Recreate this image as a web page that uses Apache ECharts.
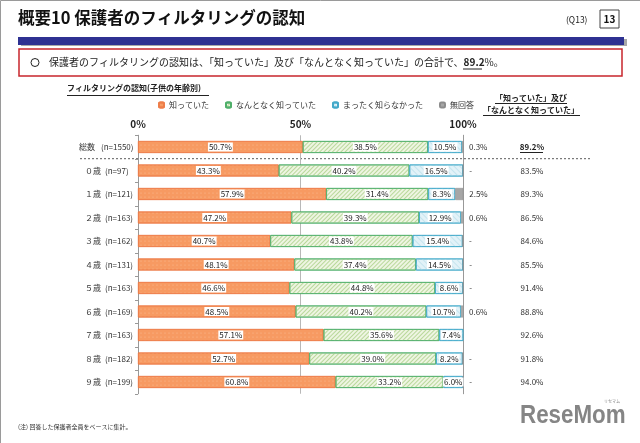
<!DOCTYPE html>
<html><head><meta charset="utf-8">
<script src="https://cdn.jsdelivr.net/npm/echarts@6/dist/echarts.min.js"></script>
<style>html,body{margin:0;padding:0;background:#fff}#c{width:640px;height:443px}</style>
</head><body><div id="c"></div>
<script>
const categories = ['総数', '０歳', '１歳', '２歳', '３歳', '４歳', '５歳', '６歳', '７歳', '８歳', '９歳'];
const sampleSizes = ['(n=1550)', '(n=97)', '(n=121)', '(n=163)', '(n=162)', '(n=131)', '(n=163)', '(n=169)', '(n=163)', '(n=182)', '(n=199)'];
const knew = [50.7, 43.3, 57.9, 47.2, 40.7, 48.1, 46.6, 48.5, 57.1, 52.7, 60.8];
const vaguelyKnew = [38.5, 40.2, 31.4, 39.3, 43.8, 37.4, 44.8, 40.2, 35.6, 39.0, 33.2];
const didNotKnow = [10.5, 16.5, 8.3, 12.9, 15.4, 14.5, 8.6, 10.7, 7.4, 8.2, 6.0];
const noAnswer = [0.3, 0, 2.5, 0.6, 0, 0, 0, 0.6, 0, 0, 0];
const knewTotal = [89.2, 83.5, 89.3, 86.5, 84.6, 85.5, 91.4, 88.8, 92.6, 91.8, 94.0];
const seriesNames = ['知っていた', 'なんとなく知っていた', 'まったく知らなかった', '無回答'];
const xTicks = [0, 50, 100];

const FONT = '"Noto Sans CJK JP", "Noto Sans", sans-serif';
const chart = echarts.init(document.getElementById('c'), null, {renderer: 'canvas'});

const inLabel = {
  show: true, position: 'inside', fontSize: 8, color: '#222', fontFamily: FONT,
  backgroundColor: '#fff', padding: [1, 1, 0, 1],
  formatter: p => p.value.toFixed(1) + '%'
};
const txt = {fontSize: 8, fontFamily: FONT, color: '#333'};

const option = {
  animation: false,
  textStyle: {fontFamily: FONT},
  legend: {
    data: seriesNames, left: 158, top: 101, padding: 0, itemWidth: 5, itemHeight: 5, itemGap: 16,
    textStyle: {fontSize: 8, color: '#333', fontFamily: FONT}
  },
  grid: {left: 138, right: 177, top: 135.25, height: 258.5},
  xAxis: {
    type: 'value', position: 'top', min: 0, max: 100, interval: 50,
    axisLine: {show: false}, axisTick: {show: false},
    axisLabel: {fontSize: 10, color: '#222', fontWeight: 'bold', margin: 6,
      formatter: v => xTicks.includes(v) ? v + '%' : ''},
    splitLine: {show: true, lineStyle: {color: '#b8b8b8', width: 1}}
  },
  yAxis: [{
    type: 'category', inverse: true, data: categories,
    axisLine: {show: true, lineStyle: {color: '#999'}},
    axisTick: {show: true, length: 3, lineStyle: {color: '#999'}},
    axisLabel: {
      align: 'right', margin: 6, fontSize: 8, color: '#333',
      formatter: (v, i) => i === 0 ? '{a0|' + v + '}{b0|' + sampleSizes[i] + '}' : '{a|' + v + '}{b|' + sampleSizes[i] + '}',
      rich: {
        a0: Object.assign({width: 22, align: 'left'}, txt), b0: Object.assign({width: 31, align: 'left'}, txt),
        a: Object.assign({width: 20, align: 'left'}, txt), b: Object.assign({width: 27, align: 'left'}, txt)
      }
    }
  }, {
    type: 'category', inverse: true, data: categories, position: 'right',
    axisLine: {show: true, lineStyle: {color: '#999'}}, axisTick: {show: false},
    axisLabel: {
      align: 'center', margin: 69, fontSize: 8, color: '#333',
      formatter: (v, i) => i === 0 ? '{t|' + knewTotal[i].toFixed(1) + '%}' : knewTotal[i].toFixed(1) + '%',
      rich: {t: {fontWeight: 'bold', fontSize: 8, fontFamily: FONT, color: '#222'}}
    }
  }],
  series: [{
    name: seriesNames[0], type: 'bar', stack: 's', data: knew, barWidth: 12,
    itemStyle: {color: '#F79A62', borderColor: '#EE7E4A', borderWidth: 0.8,
      decal: {symbol: 'circle', symbolSize: 0.5, dashArrayX: [[2, 2]], dashArrayY: [2, 2], color: 'rgba(255,230,210,0.55)'}},
    label: inLabel
  }, {
    name: seriesNames[1], type: 'bar', stack: 's', data: vaguelyKnew, barWidth: 12,
    itemStyle: {color: '#EEF5E2', borderColor: '#4FAF6A', borderWidth: 0.8,
      decal: {symbol: 'rect', symbolSize: 1, dashArrayX: [1, 0], dashArrayY: [1, 2], rotation: -Math.PI / 4, color: '#B9D89A'}},
    label: inLabel
  }, {
    name: seriesNames[2], type: 'bar', stack: 's', data: didNotKnow, barWidth: 12,
    itemStyle: {color: '#E2F2F8', borderColor: '#43A9C9', borderWidth: 0.8,
      decal: {symbol: 'rect', symbolSize: 1, dashArrayX: [1, 0], dashArrayY: [1, 3], rotation: Math.PI / 4, color: '#C4E4EE'}},
    label: inLabel
  }, {
    name: seriesNames[3], type: 'bar', stack: 's', data: noAnswer, barWidth: 12,
    itemStyle: {color: '#A6A6A6', borderColor: '#8c8c8c', borderWidth: 0.5},
    label: {show: true, position: 'right', distance: 6, fontSize: 8, color: '#333', fontFamily: FONT,
      formatter: p => p.value > 0 ? p.value.toFixed(1) + '%' : '-'}
  }],
  graphic: [
    {type: 'rect', shape: {x: 0.5, y: 0.5, width: 700, height: 500}, style: {fill: 'none', stroke: '#9a9a9a', lineWidth: 1}},
    {type: 'text', left: 18, top: 9, style: {text: '概要10 保護者のフィルタリングの認知', font: 'bold 16.5px ' + FONT, fill: '#111'}},
    {type: 'text', left: 566, top: 16, style: {text: '(Q13)', font: '8.5px ' + FONT, fill: '#222'}},
    {type: 'rect', shape: {x: 600, y: 10, width: 19, height: 18}, style: {fill: '#fff', stroke: '#444', lineWidth: 1}},
    {type: 'text', x: 609.5, y: 19, style: {text: '13', font: 'bold 10px ' + FONT, fill: '#111', align: 'center', verticalAlign: 'middle'}},
    {type: 'rect', shape: {x: 21, y: 39, width: 606, height: 7}, style: {fill: '#a8a8a8'}},
    {type: 'rect', shape: {x: 18, y: 37, width: 606, height: 8}, style: {fill: '#2E3192'}},
    {type: 'rect', shape: {x: 19, y: 49, width: 603, height: 27}, style: {fill: '#fff', stroke: '#C8262C', lineWidth: 1.5}},
    {type: 'circle', shape: {cx: 35, cy: 62.5, r: 4}, style: {fill: 'none', stroke: '#222', lineWidth: 1}},
    {type: 'text', left: 49, top: 57, style: {text: '保護者のフィルタリングの認知は、「知っていた」及び「なんとなく知っていた」の合計で、{u|89.2}%。',
      font: '10px ' + FONT, fill: '#222', rich: {u: {fontWeight: 'bold', fontSize: 10, fontFamily: FONT, fill: '#222'}}}},
    {type: 'line', shape: {x1: 463, y1: 69, x2: 482, y2: 69}, style: {stroke: '#222', lineWidth: 1}},
    {type: 'text', left: 67, top: 84, style: {text: 'フィルタリングの認知(子供の年齢別)', font: 'bold 8px ' + FONT, fill: '#222'}},
    {type: 'line', shape: {x1: 67, y1: 95.5, x2: 209, y2: 95.5}, style: {stroke: '#222', lineWidth: 1}},
    {type: 'text', x: 531, y: 98, style: {text: '「知っていた」及び', font: 'bold 8px ' + FONT, fill: '#222', align: 'center', verticalAlign: 'middle'}},
    {type: 'line', shape: {x1: 495, y1: 103.5, x2: 567, y2: 103.5}, style: {stroke: '#222', lineWidth: 1}},
    {type: 'text', x: 531, y: 110, style: {text: '「なんとなく知っていた」', font: 'bold 8px ' + FONT, fill: '#222', align: 'center', verticalAlign: 'middle'}},
    {type: 'line', shape: {x1: 483, y1: 115.5, x2: 580, y2: 115.5}, style: {stroke: '#222', lineWidth: 1}},
    {type: 'line', shape: {x1: 520, y1: 152.5, x2: 543, y2: 152.5}, style: {stroke: '#222', lineWidth: 1}},
    {type: 'line', shape: {x1: 80, y1: 158.75, x2: 590, y2: 158.75}, style: {stroke: '#333', lineWidth: 0.8, lineDash: [2, 2]}},
    {type: 'text', left: 18, top: 424, style: {text: '(注) 回答した保護者全員をベースに集計。', font: '6px ' + FONT, fill: '#333'}},
    {type: 'text', x: 520, y: 403, scaleX: 0.86, style: {text: 'ReseMom', font: 'bold 26px "Liberation Sans", Arial, sans-serif', fill: '#858585'}},
    {type: 'text', left: 604, top: 399, style: {text: 'リセマム', font: '4px ' + FONT, fill: '#858585'}}
  ]
};
chart.setOption(option);
</script></body></html>
